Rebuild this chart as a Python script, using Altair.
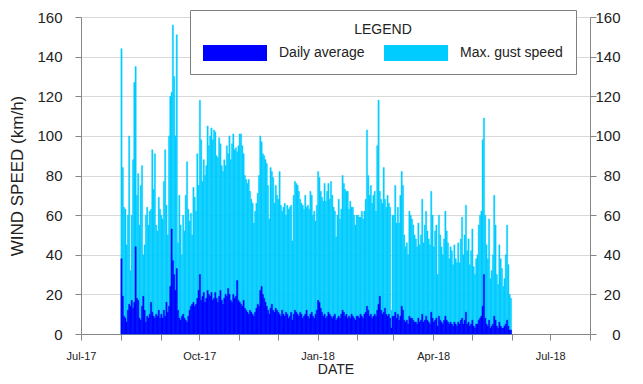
import altair as alt
import pandas as pd

# ---- daily maximum gust speed (km/h), Aug 2017 - May 2018 ----
gust_aug = [144, 84, 64, 63, 45, 60, 100, 32, 60, 88, 127, 135, 70, 81, 55, 75, 85, 40, 45, 60,
            64, 55, 62, 63, 93, 73, 91, 55, 52, 69, 63]
gust_sep = [60, 58, 77, 93, 65, 50, 100, 120, 122, 156, 130, 100, 151, 46, 70, 55, 40, 60, 52, 70,
            87, 63, 57, 61, 50, 74, 69, 62, 91, 75]
gust_oct = [118, 98, 77, 88, 80, 85, 105, 95, 100, 104, 98, 103, 102, 90, 89, 99, 96, 85, 82, 88,
            85, 95, 91, 100, 88, 96, 101, 93, 94, 92, 95]
gust_nov = [101, 101, 95, 91, 80, 78, 76, 78, 72, 68, 66, 56, 62, 66, 71, 80, 100, 97, 91, 90,
            88, 86, 75, 58, 84, 82, 79, 66, 75, 70]
gust_dec = [68, 82, 65, 62, 64, 66, 60, 65, 63, 64, 65, 47, 70, 77, 76, 75, 72, 68, 66, 65,
            63, 70, 64, 65, 63, 72, 70, 60, 62, 57, 65]
gust_jan = [82, 79, 72, 69, 67, 76, 67, 72, 76, 68, 77, 70, 64, 62, 49, 60, 68, 58, 63, 80,
            76, 73, 72, 72, 63, 67, 64, 64, 60, 55, 60]
gust_feb = [60, 59, 59, 62, 58, 62, 68, 103, 80, 70, 75, 66, 70, 72, 62, 95, 118, 72, 68, 66,
            84, 68, 64, 70, 66, 64, 12, 60]
gust_mar = [60, 75, 56, 64, 56, 70, 82, 75, 50, 44, 46, 40, 62, 60, 58, 55, 50, 48, 44, 56,
            45, 50, 68, 46, 55, 62, 52, 48, 45, 72, 60]
gust_apr = [44, 52, 55, 30, 60, 50, 44, 40, 48, 62, 52, 46, 38, 44, 42, 35, 45, 38, 36, 46,
            36, 48, 59, 40, 50, 65, 42, 48, 35, 42]
gust_may = [53, 34, 30, 38, 40, 55, 60, 62, 98, 109, 60, 45, 38, 58, 28, 32, 40, 70, 55, 30,
            25, 45, 38, 33, 24, 28, 40, 55, 35, 20, 18]

# ---- daily average wind speed (km/h) ----
avg_aug = [38, 19, 9, 8, 6, 12, 15, 14, 17, 13, 16, 44, 18, 17, 8, 7, 14, 19, 12, 6,
           9, 8, 10, 16, 11, 9, 8, 10, 9, 12, 8]
avg_sep = [10, 8, 12, 9, 16, 11, 14, 24, 53, 37, 30, 22, 33, 12, 8, 7, 9, 10, 8, 7,
           6, 9, 12, 14, 15, 16, 14, 15, 18, 22]
avg_oct = [30, 17, 19, 21, 16, 18, 22, 20, 19, 21, 17, 18, 21, 18, 16, 19, 22, 17, 15, 18,
           20, 19, 23, 20, 17, 16, 20, 18, 19, 27, 17]
avg_nov = [16, 15, 14, 17, 13, 12, 11, 10, 12, 11, 10, 9, 11, 13, 15, 14, 22, 24, 20, 18,
           16, 14, 12, 10, 13, 15, 12, 11, 13, 12]
avg_dec = [11, 10, 9, 12, 10, 9, 11, 10, 8, 9, 11, 7, 10, 12, 11, 10, 9, 11, 10, 8,
           9, 10, 12, 9, 8, 10, 11, 9, 8, 10, 12]
avg_jan = [17, 16, 13, 11, 9, 10, 8, 9, 11, 10, 9, 8, 9, 10, 7, 8, 9, 8, 10, 12,
           11, 9, 10, 8, 9, 8, 10, 9, 8, 7, 9]
avg_feb = [9, 8, 10, 9, 8, 10, 11, 14, 12, 9, 10, 8, 9, 10, 9, 12, 15, 19, 12, 10,
           11, 13, 10, 9, 10, 8, 3, 9]
avg_mar = [9, 11, 8, 10, 7, 9, 14, 12, 7, 6, 7, 5, 9, 8, 8, 7, 6, 6, 5, 8,
           6, 7, 10, 6, 7, 9, 7, 6, 5, 11, 8]
avg_apr = [6, 7, 8, 4, 9, 7, 6, 5, 7, 9, 7, 6, 5, 6, 5, 4, 6, 5, 4, 6,
           5, 7, 8, 5, 7, 11, 5, 6, 4, 5]
avg_may = [7, 4, 3, 5, 5, 7, 8, 9, 14, 30, 8, 5, 4, 7, 3, 4, 5, 9, 7, 4,
           3, 6, 4, 3, 3, 4, 5, 7, 4, 2, 2]

series_names = ["Daily average", "Max. gust speed"]
series_colors = ["#0000FF", "#00CCFF"]
y_ticks = [0, 20, 40, 60, 80, 100, 120, 140, 160]

gust = (gust_aug + gust_sep + gust_oct + gust_nov + gust_dec + gust_jan + gust_feb
        + gust_mar + gust_apr + gust_may)
avg = (avg_aug + avg_sep + avg_oct + avg_nov + avg_dec + avg_jan + avg_feb
       + avg_mar + avg_apr + avg_may)
n = len(gust)

days = pd.date_range("2017-08-01", periods=n, freq="D")
start = [d.strftime("%Y-%m-%d") for d in days]
end = [(d + pd.Timedelta(days=1)).strftime("%Y-%m-%d") for d in days]

df = pd.DataFrame({
    "date": start + start,
    "date_end": end + end,
    "series": [series_names[1]] * n + [series_names[0]] * n,
    "speed": gust + avg,
})


def ms(s):
    return int(pd.Timestamp(s, tz="UTC").value // 10**6)


x_domain = [ms("2017-07-01"), ms("2018-08-01")]
month_ticks = [ms(d.strftime("%Y-%m-%d")) for d in pd.date_range("2017-07-01", "2018-08-01", freq="MS")]

FONT = "Liberation Sans"
TXT = "#222222"
AX = "#868686"

label_expr = ("utcmonth(datum.value) % 3 == 0 && datum.value < " + str(month_ticks[-1])
              + " ? utcFormat(datum.value, '%b-%y') : ''")

color = alt.Color(
    "series:N",
    scale=alt.Scale(domain=series_names, range=series_colors),
    legend=alt.Legend(
        title="LEGEND", orient="none", legendX=109, legendY=-7, direction="horizontal",
        titleAnchor="middle", titleFontSize=14, titleFontWeight="normal", titleFont=FONT,
        titleColor=TXT, titlePadding=8,
        labelFontSize=14, labelFont=FONT, labelColor=TXT, labelOffset=60,
        symbolType="M-1,-1H7V1H-1Z", symbolSize=256, symbolStrokeWidth=0, symbolOpacity=1,
        columnPadding=19, padding=13, strokeColor="#7f7f7f", fillColor="white",
    ),
)

x_enc = alt.X(
    "date:T",
    scale=alt.Scale(type="utc", domain=x_domain),
    axis=alt.Axis(
        values=month_ticks, grid=False, tickSize=6, tickColor=AX, domainColor=AX,
        labelExpr=label_expr,
        labelFont=FONT, labelFontSize=11, labelColor=TXT, labelPadding=10, labelFlush=False,
        labelAngle=0, labelOverlap=False,
        title="DATE", titleFont=FONT, titleFontSize=14, titleFontWeight="normal", titleColor=TXT,
        titlePadding=1,
    ),
)

gust_layer = alt.Chart(df).transform_filter(
    alt.datum.series == series_names[1]
).mark_rect(stroke=series_colors[1], strokeWidth=0.4).encode(
    x=x_enc,
    x2="date_end:T",
    y=alt.Y(
        "speed:Q",
        scale=alt.Scale(domain=[0, 160], nice=False),
        axis=alt.Axis(
            orient="left", values=y_ticks, grid=True, gridColor="#D9D9D9", tickSize=6,
            tickColor=AX, domainColor=AX, labelFont=FONT, labelFontSize=15, labelColor=TXT,
            labelPadding=13, title="WIND SPEED (km/h)", titleFont=FONT, titleFontSize=17,
            titleFontWeight="normal", titleColor=TXT, titlePadding=10,
        ),
    ),
    color=color,
)

avg_layer = alt.Chart(df).transform_filter(
    alt.datum.series == series_names[0]
).mark_rect(stroke=series_colors[0], strokeWidth=0.4).encode(
    x=x_enc,
    x2="date_end:T",
    y=alt.Y(
        "speed:Q",
        scale=alt.Scale(domain=[0, 160], nice=False),
        axis=alt.Axis(
            orient="right", values=y_ticks, grid=False, tickSize=6, tickColor=AX,
            domainColor=AX, labelFont=FONT, labelFontSize=15, labelColor=TXT,
            labelAlign="right", labelPadding=24, title="",
        ),
    ),
    color=color,
)

chart = alt.layer(gust_layer, avg_layer).resolve_scale(
    y="independent"
).properties(
    width=509,
    height=317,
    padding={"left": 73, "top": 9, "right": 45, "bottom": 42},
    autosize=alt.AutoSizeParams(type="none"),
    background="white",
).configure_view(strokeWidth=0).configure_axis(labelOverlap=False)

chart.save("out.html", embed_options={"renderer": "svg", "actions": False})
